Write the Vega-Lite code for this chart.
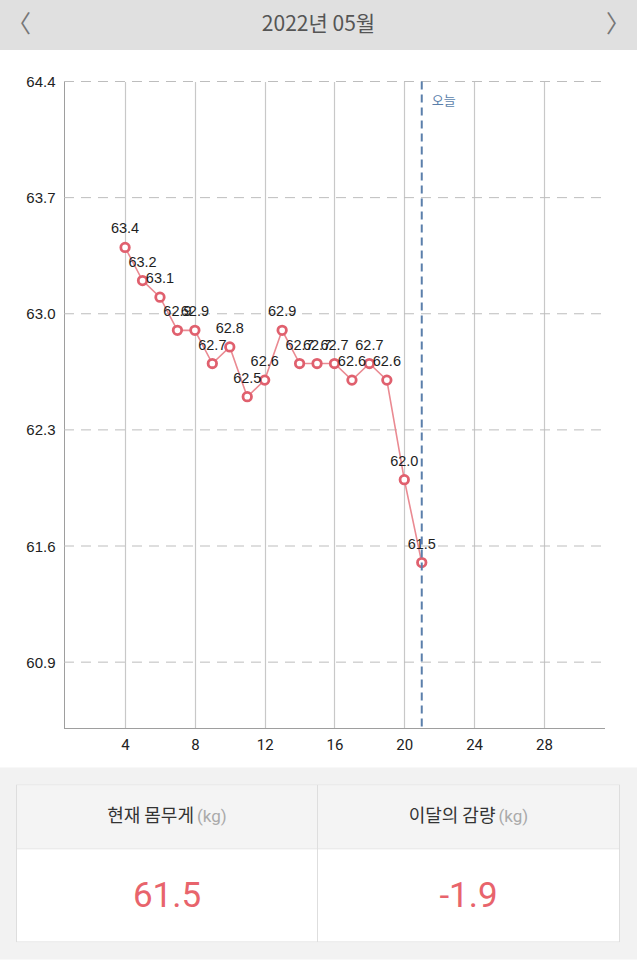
{
  "$schema": "https://vega.github.io/schema/vega-lite/v6.json",
  "background": "white",
  "padding": 0,
  "config": {
    "view": {"stroke": null},
    "text": {"font": "Noto Sans CJK KR"},
    "axis": {"labelFont": "Roboto", "titleFont": "Roboto"}
  },
  "datasets": {
    "weights": [
      {"day": 4, "weight": 63.4},
      {"day": 5, "weight": 63.2},
      {"day": 6, "weight": 63.1},
      {"day": 7, "weight": 62.9},
      {"day": 8, "weight": 62.9},
      {"day": 9, "weight": 62.7},
      {"day": 10, "weight": 62.8},
      {"day": 11, "weight": 62.5},
      {"day": 12, "weight": 62.6},
      {"day": 13, "weight": 62.9},
      {"day": 14, "weight": 62.7},
      {"day": 15, "weight": 62.7},
      {"day": 16, "weight": 62.7},
      {"day": 17, "weight": 62.6},
      {"day": 18, "weight": 62.7},
      {"day": 19, "weight": 62.6},
      {"day": 20, "weight": 62.0},
      {"day": 21, "weight": 61.5}
    ],
    "yticks": [
      {"weight": 60.9}, {"weight": 61.6}, {"weight": 62.3},
      {"weight": 63.0}, {"weight": 63.7}, {"weight": 64.4}
    ],
    "today": [{"day": 21, "label": "오늘", "top": 64.4}],
    "header": [
      {"slot": "prev", "label": "〈"},
      {"slot": "title", "label": "2022년 05월"},
      {"slot": "next", "label": "〉"}
    ],
    "summary": [
      {"key": "current", "name": "현재 몸무게", "unit": "(kg)", "value": "61.5"},
      {"key": "change", "name": "이달의 감량", "unit": "(kg)", "value": "-1.9"}
    ],
    "blank": [{}]
  },
  "spacing": 24.5,
  "vconcat": [
    {
      "width": 637,
      "height": 50,
      "view": {"fill": "#e0e0e0", "stroke": null},
      "data": {"name": "header"},
      "encoding": {
        "x": {"field": "slot", "type": "nominal", "scale": {"type": "point", "domain": ["prev", "title", "next"], "padding": 0.085}, "axis": null},
        "text": {"field": "label"}
      },
      "layer": [
        {
          "transform": [{"filter": "datum.slot === 'title'"}],
          "mark": {"type": "text", "fontSize": 21, "color": "#555555", "font": "Noto Sans CJK KR"}
        },
        {
          "transform": [{"filter": "datum.slot === 'prev'"}],
          "mark": {"type": "text", "fontSize": 24, "dx": -6, "color": "#777777", "font": "Noto Sans CJK KR"}
        },
        {
          "transform": [{"filter": "datum.slot === 'next'"}],
          "mark": {"type": "text", "fontSize": 24, "dx": 6, "color": "#777777", "font": "Noto Sans CJK KR"}
        }
      ]
    },
    {
      "spacing": 15,
      "vconcat": [
        {
          "width": 637,
          "height": 647,
          "layer": [
            {
              "data": {"name": "yticks"},
              "mark": {"type": "rule", "color": "#bdbdbd", "strokeWidth": 1, "strokeDash": [10, 7]},
              "encoding": {
                "y": {"field": "weight", "type": "quantitative"},
                "x": {"datum": 0.5},
                "x2": {"datum": 31.5}
              }
            },
            {
              "data": {"name": "weights"},
              "mark": {"type": "line", "color": "#ea8a92", "strokeWidth": 1.6},
              "encoding": {
                "x": {
                  "field": "day", "type": "quantitative",
                  "scale": {"domain": [-3.167, 33.334], "nice": false, "zero": false},
                  "axis": {
                    "title": null, "values": [4, 8, 12, 16, 20, 24, 28],
                    "grid": true, "gridColor": "#c8c8c8", "gridWidth": 1.2,
                    "domain": false,
                    "ticks": false, "labelPadding": 9, "labelFontSize": 15, "labelColor": "#222222"
                  }
                },
                "y": {
                  "field": "weight", "type": "quantitative",
                  "scale": {"domain": [60.5, 64.4], "nice": false, "zero": false},
                  "axis": {
                    "title": null, "values": [60.9, 61.6, 62.3, 63.0, 63.7, 64.4], "format": ".1f",
                    "grid": false, "offset": -64,
                    "domain": true, "domainColor": "#9e9e9e", "domainWidth": 1,
                    "ticks": false, "labelPadding": 9, "labelFontSize": 15, "labelColor": "#222222",
                    "labelFont": "Liberation Sans"
                  }
                }
              }
            },
            {
              "data": {"name": "blank"},
              "mark": {"type": "rule", "color": "#9e9e9e", "strokeWidth": 1},
              "encoding": {
                "y": {"datum": 60.5},
                "x": {"datum": 0.5},
                "x2": {"datum": 31.5}
              }
            },
            {
              "data": {"name": "weights"},
              "mark": {"type": "point", "shape": "circle", "filled": true, "fill": "white", "stroke": "#e0606e", "strokeWidth": 2.8, "size": 72, "opacity": 1},
              "encoding": {
                "x": {"field": "day", "type": "quantitative"},
                "y": {"field": "weight", "type": "quantitative"}
              }
            },
            {
              "data": {"name": "weights"},
              "mark": {"type": "text", "dy": -18, "fontSize": 14.5, "color": "#1e1e1e", "font": "Liberation Sans"},
              "encoding": {
                "x": {"field": "day", "type": "quantitative"},
                "y": {"field": "weight", "type": "quantitative"},
                "text": {"field": "weight", "type": "quantitative", "format": ".1f"}
              }
            },
            {
              "data": {"name": "today"},
              "mark": {"type": "rule", "color": "#5b7fab", "strokeWidth": 2, "strokeDash": [8, 5]},
              "encoding": {
                "x": {"field": "day", "type": "quantitative"}
              }
            },
            {
              "data": {"name": "today"},
              "mark": {"type": "text", "align": "left", "dx": 10, "dy": 19, "fontSize": 13, "color": "#5b7fab", "font": "Noto Sans CJK KR"},
              "encoding": {
                "x": {"field": "day", "type": "quantitative"},
                "y": {"field": "top", "type": "quantitative"},
                "text": {"field": "label"}
              }
            }
          ]
        },
        {
          "spacing": 0,
          "hconcat": [
            {
              "width": 16, "height": 192,
              "view": {"fill": "#f2f2f2", "stroke": null},
              "data": {"name": "blank"}, "mark": {"type": "text", "text": ""}, "encoding": {}
            },
            {
              "spacing": 0, "bounds": "flush",
              "vconcat": [
                {"width": 1, "height": 17, "view": {"fill": "#f2f2f2", "stroke": null}, "data": {"name": "blank"}, "mark": {"type": "text", "text": ""}, "encoding": {}},
                {"width": 1, "height": 158, "view": {"fill": "#dedede", "stroke": null}, "data": {"name": "blank"}, "mark": {"type": "text", "text": ""}, "encoding": {}},
                {"width": 1, "height": 17, "view": {"fill": "#f2f2f2", "stroke": null}, "data": {"name": "blank"}, "mark": {"type": "text", "text": ""}, "encoding": {}}
              ]
            },
            {
              "spacing": 0, "bounds": "flush",
              "vconcat": [
                {"width": 300, "height": 17, "view": {"fill": "#f2f2f2", "stroke": null}, "data": {"name": "blank"}, "mark": {"type": "text", "text": ""}, "encoding": {}},
                {"width": 300, "height": 1, "view": {"fill": "#dedede", "stroke": null}, "data": {"name": "blank"}, "mark": {"type": "text", "text": ""}, "encoding": {}},
                {
                  "width": 300, "height": 63,
                  "view": {"fill": "#f4f4f4", "stroke": null},
                  "data": {"name": "summary"},
                  "transform": [{"filter": "datum.key === 'current'"}],
                  "layer": [
                    {"mark": {"type": "text", "align": "right", "dx": 27, "fontSize": 18, "color": "#333333"}, "encoding": {"text": {"field": "name"}}},
                    {"mark": {"type": "text", "align": "left", "dx": 30, "fontSize": 17, "color": "#aaaaaa", "font": "Roboto"}, "encoding": {"text": {"field": "unit"}}}
                  ]
                },
                {"width": 300, "height": 1, "view": {"fill": "#dedede", "stroke": null}, "data": {"name": "blank"}, "mark": {"type": "text", "text": ""}, "encoding": {}},
                {
                  "width": 300, "height": 92,
                  "view": {"fill": "white", "stroke": null},
                  "data": {"name": "summary"},
                  "transform": [{"filter": "datum.key === 'current'"}],
                  "mark": {"type": "text", "fontSize": 35, "color": "#e8646c", "font": "Roboto"},
                  "encoding": {"text": {"field": "value"}}
                },
                {"width": 300, "height": 1, "view": {"fill": "#dedede", "stroke": null}, "data": {"name": "blank"}, "mark": {"type": "text", "text": ""}, "encoding": {}},
                {"width": 300, "height": 17, "view": {"fill": "#f2f2f2", "stroke": null}, "data": {"name": "blank"}, "mark": {"type": "text", "text": ""}, "encoding": {}}
              ]
            },
            {
              "spacing": 0, "bounds": "flush",
              "vconcat": [
                {"width": 1, "height": 17, "view": {"fill": "#f2f2f2", "stroke": null}, "data": {"name": "blank"}, "mark": {"type": "text", "text": ""}, "encoding": {}},
                {"width": 1, "height": 158, "view": {"fill": "#dedede", "stroke": null}, "data": {"name": "blank"}, "mark": {"type": "text", "text": ""}, "encoding": {}},
                {"width": 1, "height": 17, "view": {"fill": "#f2f2f2", "stroke": null}, "data": {"name": "blank"}, "mark": {"type": "text", "text": ""}, "encoding": {}}
              ]
            },
            {
              "spacing": 0, "bounds": "flush",
              "vconcat": [
                {"width": 301, "height": 17, "view": {"fill": "#f2f2f2", "stroke": null}, "data": {"name": "blank"}, "mark": {"type": "text", "text": ""}, "encoding": {}},
                {"width": 301, "height": 1, "view": {"fill": "#dedede", "stroke": null}, "data": {"name": "blank"}, "mark": {"type": "text", "text": ""}, "encoding": {}},
                {
                  "width": 301, "height": 63,
                  "view": {"fill": "#f4f4f4", "stroke": null},
                  "data": {"name": "summary"},
                  "transform": [{"filter": "datum.key === 'change'"}],
                  "layer": [
                    {"mark": {"type": "text", "align": "right", "dx": 27, "fontSize": 18, "color": "#333333"}, "encoding": {"text": {"field": "name"}}},
                    {"mark": {"type": "text", "align": "left", "dx": 30, "fontSize": 17, "color": "#aaaaaa", "font": "Roboto"}, "encoding": {"text": {"field": "unit"}}}
                  ]
                },
                {"width": 301, "height": 1, "view": {"fill": "#dedede", "stroke": null}, "data": {"name": "blank"}, "mark": {"type": "text", "text": ""}, "encoding": {}},
                {
                  "width": 301, "height": 92,
                  "view": {"fill": "white", "stroke": null},
                  "data": {"name": "summary"},
                  "transform": [{"filter": "datum.key === 'change'"}],
                  "mark": {"type": "text", "fontSize": 35, "color": "#e8646c", "font": "Roboto"},
                  "encoding": {"text": {"field": "value"}}
                },
                {"width": 301, "height": 1, "view": {"fill": "#dedede", "stroke": null}, "data": {"name": "blank"}, "mark": {"type": "text", "text": ""}, "encoding": {}},
                {"width": 301, "height": 17, "view": {"fill": "#f2f2f2", "stroke": null}, "data": {"name": "blank"}, "mark": {"type": "text", "text": ""}, "encoding": {}}
              ]
            },
            {
              "spacing": 0, "bounds": "flush",
              "vconcat": [
                {"width": 1, "height": 17, "view": {"fill": "#f2f2f2", "stroke": null}, "data": {"name": "blank"}, "mark": {"type": "text", "text": ""}, "encoding": {}},
                {"width": 1, "height": 158, "view": {"fill": "#dedede", "stroke": null}, "data": {"name": "blank"}, "mark": {"type": "text", "text": ""}, "encoding": {}},
                {"width": 1, "height": 17, "view": {"fill": "#f2f2f2", "stroke": null}, "data": {"name": "blank"}, "mark": {"type": "text", "text": ""}, "encoding": {}}
              ]
            },
            {
              "width": 17, "height": 192,
              "view": {"fill": "#f2f2f2", "stroke": null},
              "data": {"name": "blank"}, "mark": {"type": "text", "text": ""}, "encoding": {}
            }
          ]
        }
      ]
    }
  ]
}
